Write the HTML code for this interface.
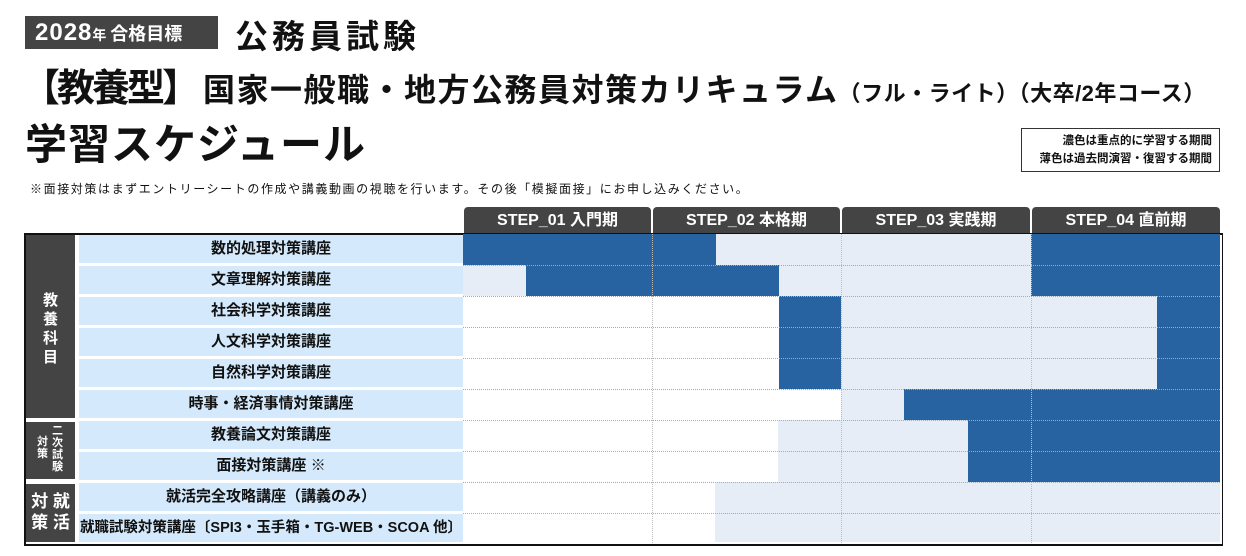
<!DOCTYPE html>
<html><head><meta charset="utf-8">
<style>
body{margin:0;width:1246px;height:556px;background:#fff;position:relative;overflow:hidden;font-family:"Liberation Sans","Noto Sans CJK JP",sans-serif;color:#111}
.a{position:absolute;white-space:nowrap}
.lab{position:absolute;left:79px;width:384px;background:#d4e9fb;font-weight:bold;font-size:15px;text-align:center;line-height:28px}
.c{position:absolute;height:31px}
.b{background:#2762a1}.l{background:#e6edf6}
.tab{position:absolute;top:207px;height:27px;background:#444;color:#fff;font-weight:bold;font-size:16px;text-align:center;line-height:27px;border-radius:4px 4px 0 0}
.hl{position:absolute;left:463px;width:757px;height:0;border-top:1px dotted #aaa}
.vl{position:absolute;top:234px;height:309px;width:0;border-left:1px dotted #bbb}
.grp{position:absolute;left:26px;width:49px;background:#444;color:#fff;font-weight:bold;text-align:center}
</style></head><body>
<div class="a" style="left:25px;top:16px;width:193px;height:33px;background:#444;color:#fff;font-weight:bold;line-height:33px;padding-left:10px;box-sizing:border-box"><span style="font-size:24px;letter-spacing:1px">2028</span><span style="font-size:14px">年 </span><span style="font-size:18px">合格目標</span></div>
<div class="a" style="left:235px;top:10px;font-size:33px;letter-spacing:4px;font-weight:bold">公務員試験</div>
<div class="a" style="left:22px;top:57px;font-weight:bold"><span style="font-size:38px;letter-spacing:-3px">【教養型】</span><span style="font-size:32px;letter-spacing:1.5px;margin-left:6px">国家一般職・地方公務員対策カリキュラム</span><span style="font-size:22px;letter-spacing:0.5px">（フル・ライト）（大卒/2年コース）</span></div>
<div class="a" style="left:25px;top:111px;font-size:42px;letter-spacing:1px;font-weight:bold">学習スケジュール</div>
<div class="a" style="left:30px;top:180px;font-size:12px;letter-spacing:1.6px">※面接対策はまずエントリーシートの作成や講義動画の視聴を行います。その後「模擬面接」にお申し込みください。</div>
<div class="a" style="left:1021px;top:128px;width:199px;height:44px;border:1px solid #333;box-sizing:border-box;font-size:11.5px;font-weight:bold;text-align:right;padding:3px 7px 0 0;line-height:18px">濃色は重点的に学習する期間<br>薄色は過去問演習・復習する期間</div>

<div class="tab" style="left:464px;width:187px">STEP_01 入門期</div>
<div class="tab" style="left:653px;width:187px">STEP_02 本格期</div>
<div class="tab" style="left:842px;width:188px">STEP_03 実践期</div>
<div class="tab" style="left:1032px;width:188px">STEP_04 直前期</div>

<div class="a" style="left:24px;top:233px;width:1196px;height:309px;border:2px solid #111;border-right-width:1px"></div>
<div class="grp" style="top:235px;height:183px"><div style="font-size:15px;line-height:19px;padding-top:56px">教<br>養<br>科<br>目</div></div>
<div class="grp" style="top:422px;height:57px;font-size:11px;line-height:12px"><div style="position:absolute;left:11px;top:14px">対<br>策</div><div style="position:absolute;left:26px;top:3px">二<br>次<br>試<br>験</div></div>
<div class="grp" style="top:484px;height:58px;font-size:17px;line-height:21px"><div style="padding-top:7px">対 就<br>策 活</div></div>

<div class="lab" style="top:235px">数的処理対策講座</div>
<div class="lab" style="top:266px">文章理解対策講座</div>
<div class="lab" style="top:297px">社会科学対策講座</div>
<div class="lab" style="top:328px">人文科学対策講座</div>
<div class="lab" style="top:359px">自然科学対策講座</div>
<div class="lab" style="top:390px">時事・経済事情対策講座</div>
<div class="lab" style="top:421px">教養論文対策講座</div>
<div class="lab" style="top:452px">面接対策講座 ※</div>
<div class="lab" style="top:483px">就活完全攻略講座（講義のみ）</div>
<div class="lab" style="top:514px;font-size:14.5px">就職試験対策講座〔SPI3・玉手箱・TG-WEB・SCOA 他〕</div>

<div class="c b" style="top:234px;left:463px;width:253px"></div><div class="c l" style="top:234px;left:716px;width:315px"></div><div class="c b" style="top:234px;left:1031px;width:189px"></div>
<div class="c l" style="top:265px;left:463px;width:63px"></div><div class="c b" style="top:265px;left:526px;width:253px"></div><div class="c l" style="top:265px;left:779px;width:252px"></div><div class="c b" style="top:265px;left:1031px;width:189px"></div>
<div class="c b" style="top:296px;left:779px;width:62px;height:93px"></div><div class="c l" style="top:296px;left:841px;width:316px;height:93px"></div><div class="c b" style="top:296px;left:1157px;width:63px;height:93px"></div>
<div class="c l" style="top:389px;left:841px;width:63px"></div><div class="c b" style="top:389px;left:904px;width:316px"></div>
<div class="c l" style="top:420px;left:778px;width:190px;height:62px"></div><div class="c b" style="top:420px;left:968px;width:252px;height:62px"></div>
<div class="c l" style="top:482px;left:715px;width:505px;height:60px"></div>

<div class="vl" style="left:652px"></div><div class="vl" style="left:841px"></div><div class="vl" style="left:1031px"></div>
<div class="hl" style="top:265px"></div><div class="hl" style="top:296px"></div><div class="hl" style="top:327px"></div><div class="hl" style="top:358px"></div><div class="hl" style="top:389px"></div><div class="hl" style="top:420px"></div><div class="hl" style="top:451px"></div><div class="hl" style="top:482px"></div><div class="hl" style="top:513px"></div>
</body></html>
